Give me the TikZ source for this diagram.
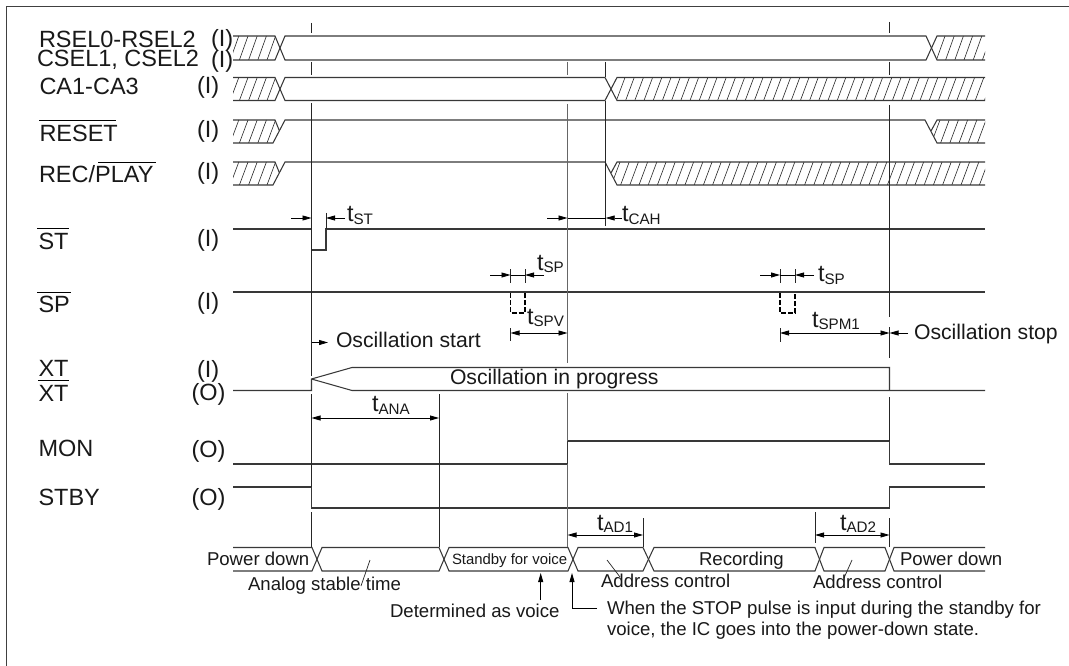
\documentclass[tikz,border=0pt]{standalone}
\usepackage{fontspec}
\setmainfont{Liberation Sans}
\usetikzlibrary{arrows.meta}
\definecolor{sigcol}{gray}{0.22}
\tikzset{
  txt/.style={anchor=base west,inner sep=0pt,outer sep=0pt,text=black!90},
  lbig/.style={txt,font=\fontsize{23.5}{23.5}\selectfont},
  lmid/.style={txt,font=\fontsize{21.2}{21.2}\selectfont},
  lsmall/.style={txt,font=\fontsize{18.6}{18.6}\selectfont},
  ltiny/.style={txt,font=\fontsize{14.9}{14.9}\selectfont},
  sig/.style={line width=1.05pt,draw=sigcol,line join=miter},
  vline/.style={line width=0.9pt,draw=black!85},
  gline/.style={line width=1.1pt,draw=black!60},
  thin leader/.style={line width=0.7pt,draw=black!85},
  hatchline/.style={line width=0.6pt,draw=black!85},
  dim/.style={line width=0.8pt,draw=black,-{Stealth[length=9pt,width=5pt,inset=0pt]}},
  dimboth/.style={line width=0.8pt,draw=black,{Stealth[length=9pt,width=5pt,inset=0pt]}-{Stealth[length=9pt,width=5pt,inset=0pt]}},
  pulse/.style={line width=1.2pt,draw=black,dash pattern=on 5pt off 2pt}
}
\newcommand\tsub[1]{t{\fontsize{15.2}{15.2}\selectfont\raisebox{-2.5pt}{#1}}}
% hatch: polygon path in #1, x-range #2..#3, hi y #4, lo y #5
\newcommand\hatchfill[5]{%
  \begin{scope}
    \clip #1;
    \foreach \k in {0,...,90}{
      \pgfmathsetmacro\hx{#2-12+\k*9.2}
      \pgfmathparse{\hx<#3+1?1:0}
      \ifnum\pgfmathresult=1
        \draw[hatchline] (\hx,#5) -- (\hx+8.6,#4);
      \fi
    }
  \end{scope}}
\begin{document}
\begin{tikzpicture}[x=1pt,y=-1pt]
\useasboundingbox (0,0) rectangle (1069,666);
\fill[white] (0,0) rectangle (1069,666);
% frame
\draw[line width=1.3pt,draw=black!75] (6.5,666) -- (6.5,6.5) -- (1069,6.5);

% hatching
\hatchfill{(233,36) -- (275,36) -- (280,48) -- (275,60) -- (233,60) -- cycle}{233}{281}{36}{60}
\hatchfill{(937,36) -- (985,36) -- (985,60) -- (937,60) -- (932,48) -- cycle}{930}{985}{36}{60}
\hatchfill{(233,77.5) -- (275,77.5) -- (280,89) -- (275,100.5) -- (233,100.5) -- cycle}{233}{281}{77.5}{100.5}
\hatchfill{(617,77.5) -- (985,77.5) -- (985,100.5) -- (617,100.5) -- (612,89) -- cycle}{610}{985}{77.5}{100.5}
\hatchfill{(233,120) -- (275,120) -- (279.5,131) -- (273,143) -- (233,143) -- cycle}{233}{281}{120}{143}
\hatchfill{(933,120) -- (985,120) -- (985,143) -- (937,143) -- (931,131) -- cycle}{925}{985}{120}{143}
\hatchfill{(233,162) -- (275,162) -- (279.5,173) -- (273,185) -- (233,185) -- cycle}{233}{281}{162}{185}
\hatchfill{(613,162) -- (985,162) -- (985,185) -- (617,185) -- (611,173) -- cycle}{605}{985}{162}{185}

% RSEL row
\draw[sig] (233,36) -- (275,36) -- (285,60) -- (926,60) -- (937,36) -- (985,36);
\draw[sig] (233,60) -- (275,60) -- (285,36) -- (926,36) -- (937,60) -- (985,60);
% CA row
\draw[sig] (233,77.5) -- (275,77.5) -- (285,100.5) -- (605,100.5) -- (617,77.5) -- (985,77.5);
\draw[sig] (233,100.5) -- (275,100.5) -- (285,77.5) -- (605,77.5) -- (617,100.5) -- (985,100.5);
% RESET row
\draw[sig] (233,120) -- (275,120) -- (279.5,131);
\draw[sig] (233,143) -- (273,143) -- (285,120) -- (925,120) -- (937,143) -- (985,143);
\draw[sig] (931,131) -- (937,120) -- (985,120);
% REC/PLAY row
\draw[sig] (233,162) -- (275,162) -- (279.5,173);
\draw[sig] (233,185) -- (273,185) -- (285,162) -- (605,162) -- (617,185) -- (985,185);
\draw[sig] (611,173) -- (617,162) -- (985,162);
% ST, SP
\draw[sig] (233,229) -- (311.5,229) -- (311.5,250) -- (326,250) -- (326,229) -- (985,229);
\draw[sig] (233,292) -- (985,292);
\draw[pulse] (510.7,293) -- (510.7,313) -- (525,313) -- (525,293);
\draw[pulse] (780,293) -- (780,313) -- (795,313) -- (795,293);
% XT
\draw[sig] (233,390.5) -- (311.5,390.5) -- (311.5,379) -- (352,367.5) -- (889.5,367.5) -- (889.5,390.5);
\draw[sig] (311.5,379) -- (352,390.5) -- (985,390.5);
% MON
\draw[sig] (233,464) -- (567.5,464) -- (567.5,441) -- (889.5,441) -- (889.5,464) -- (985,464);
% STBY
\draw[sig] (233,487) -- (311.5,487) -- (311.5,508) -- (889.5,508) -- (889.5,487) -- (985,487);
% bus
\draw[sig] (233,547.5) -- (312,547.5) -- (322,571) -- (439,571) -- (449,547.5) -- (568,547.5) -- (578,571) -- (643,571) -- (654,547.5) -- (815,547.5) -- (824,571) -- (885,571) -- (894,547.5) -- (985,547.5);
\draw[sig] (233,571) -- (312,571) -- (322,547.5) -- (439,547.5) -- (449,571) -- (568,571) -- (578,547.5) -- (643,547.5) -- (654,571) -- (815,571) -- (824,547.5) -- (885,547.5) -- (894,571) -- (985,571);

% vertical time lines
\draw[vline] (311.5,23) -- (311.5,33) (311.5,62) -- (311.5,75) (311.5,103) -- (311.5,376) (311.5,394) -- (311.5,487) (311.5,512) -- (311.5,547);
\draw[vline] (439,394) -- (439,547);
\draw[gline] (567.5,62) -- (567.5,75) (567.5,104) -- (567.5,363) (567.5,393) -- (567.5,441) (567.5,464) -- (567.5,547);
\draw[vline] (605.7,62) -- (605.7,77) (605.7,101) -- (605.7,226);
\draw[vline] (889.5,22) -- (889.5,33) (889.5,62) -- (889.5,75) (889.5,105) -- (889.5,317) (889.5,327) -- (889.5,358) (889.5,397) -- (889.5,441) (889.5,518) -- (889.5,547);
\draw[vline] (326,213) -- (326,229);
\draw[vline] (510.5,269) -- (510.5,283) (525,269) -- (525,283);
\draw[vline] (780,269) -- (780,283) (795,269) -- (795,283);
\draw[vline] (510.5,328) -- (510.5,341);
\draw[vline] (780,328) -- (780,342);
\draw[vline] (815,512) -- (815,543);
\draw[vline] (643,518) -- (643,547);

% dimension arrows
\draw[dim] (291,218) -- (311.5,218);
\draw[dim] (345,218) -- (326,218);
\draw[dim] (547,218) -- (567.5,218);
\draw[line width=0.8pt] (567.5,218) -- (605.7,218);
\draw[dim] (622,218) -- (605.7,218);
\draw[dim] (490,275) -- (510.5,275);
\draw[line width=0.8pt] (510.5,275) -- (525,275);
\draw[dim] (544,275) -- (525,275);
\draw[dim] (760,275) -- (780,275);
\draw[line width=0.8pt] (780,275) -- (795,275);
\draw[dim] (814,275) -- (795,275);
\draw[dimboth] (510.5,333) -- (567.5,333);
\draw[dimboth] (780,333) -- (889.5,333);
\draw[dim] (908,333) -- (889.5,333);
\draw[dim] (311.5,342.5) -- (328,342.5);
\draw[dimboth] (311.5,418) -- (439,418);
\draw[dimboth] (567.5,535) -- (643,535);
\draw[dimboth] (815,535) -- (889.5,535);
\draw[dim] (540.7,600) -- (540.7,573);
\draw[dim] (597,608) -- (572,608) -- (572,573);

% leaders
\draw[thin leader] (370,560) -- (361,586);
\draw[thin leader] (607,560) -- (620,577);
\draw[thin leader] (852,560) -- (844,578);

% overlines
\draw[line width=1pt] (39,121) -- (116,121);
\draw[line width=1pt] (98,163) -- (156,163);
\draw[line width=1pt] (37,228) -- (69,228);
\draw[line width=1pt] (37,292.3) -- (71,292.3);
\draw[line width=1pt] (38,380.7) -- (69,380.7);

% left labels
\node[lbig] (n1) at (39,47.7) {RSEL0-RSEL2};
\node[lbig] (n2) at (37,67) {CSEL1, CSEL2};
\node[lbig] (n3) at (39.5,95) {CA1-CA3};
\node[lbig] (n4) at (39.5,141.5) {RESET};
\node[lbig] (n5) at (39,182.5) {REC/PLAY};
\node[lbig] (n6) at (38.5,249) {ST};
\node[lbig] (n7) at (38.5,312.5) {SP};
\node[lbig] (n8) at (38.5,376.7) {XT};
\node[lbig] (n9) at (38.5,401) {XT};
\node[lbig] (n10) at (38.5,456.7) {MON};
\node[lbig] (n11) at (38.5,505) {STBY};
\node[lbig] (io1) at (211,47) {(I)};
\node[lbig] (io2) at (211,67.5) {(I)};
\node[lbig] (io3) at (197,94) {(I)};
\node[lbig] (io4) at (197,137.5) {(I)};
\node[lbig] (io5) at (197,179) {(I)};
\node[lbig] (io6) at (197,247) {(I)};
\node[lbig] (io7) at (197,309) {(I)};
\node[lbig] (io8) at (197,377) {(I)};
\node[lbig] (io9) at (191.5,400.7) {(O)};
\node[lbig] (io10) at (191.5,457) {(O)};
\node[lbig] (io11) at (191.5,505) {(O)};

% timing labels
\node[lbig] (tst) at (347,222) {\tsub{ST}};
\node[lbig] (tcah) at (622,222) {\tsub{CAH}};
\node[lbig] (tsp1) at (537,270) {\tsub{SP}};
\node[lbig] (tspv) at (527,324) {\tsub{SPV}};
\node[lbig] (tsp2) at (818,281.5) {\tsub{SP}};
\node[lbig] (tspm) at (812,327) {\tsub{SPM1}};
\node[lbig] (tana) at (372,411.5) {\tsub{ANA}};
\node[lbig] (tad1) at (597,530) {\tsub{AD1}};
\node[lbig] (tad2) at (840,530) {\tsub{AD2}};

% other labels
\node[lmid] (ostart) at (336,347) {Oscillation start};
\node[lmid] (ostop) at (914,339) {Oscillation stop};
\node[lmid] (oprog) at (450,384.5) {Oscillation in progress};
\node[lsmall] (pd1) at (207,565) {Power down};
\node[ltiny] (sby) at (452,564) {Standby for voice};
\node[lsmall] (rec) at (699,565) {Recording};
\node[lsmall] (pd2) at (900,565) {Power down};
\node[lsmall] (asr) at (248,590) {Analog stable time};
\node[lsmall] (ac1) at (601,587) {Address control};
\node[lsmall] (ac2) at (813,588) {Address control};
\node[lsmall] (dv) at (390,617) {Determined as voice};
\node[lsmall] (w1) at (607,614) {When the STOP pulse is input during the standby for};
\node[lsmall] (w2) at (607,635) {voice, the IC goes into the power-down state.};
\end{tikzpicture}
\end{document}
